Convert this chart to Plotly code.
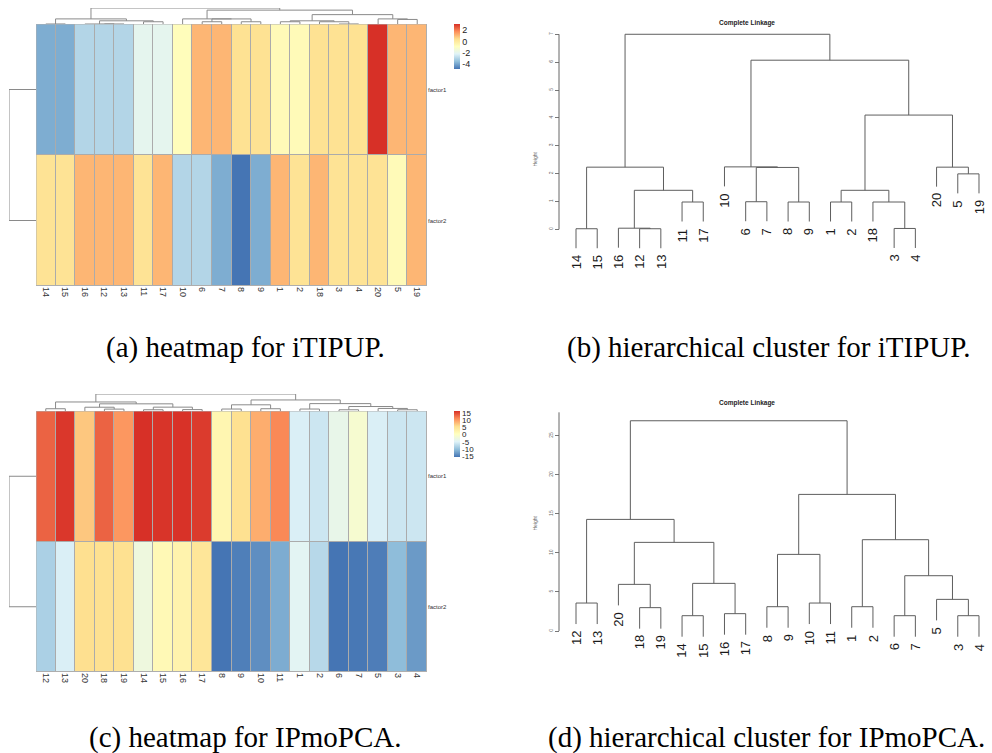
import plotly.graph_objects as go

W, H = 992, 753
def PX(p): return p / W
def PY(p): return 1 - p / H

# ---------------- data ----------------
# (a)/(b) iTIPUP
labels_itipup = [14, 15, 16, 12, 13, 11, 17, 10, 6, 7, 8, 9, 1, 2, 18, 3, 4, 20, 5, 19]
factor1_itipup = [-3.9, -3.9, -3.0, -3.0, -3.0, -2.0, -2.0, -0.8, 1.1, 1.1,
                  0.35, 0.35, -0.7, -0.7, 0.35, 0.35, 0.35, 3.1, 1.1, 1.1]
factor2_itipup = [0.3, 0.3, 1.1, 1.1, 1.1, 0.3, 1.1, -3.0, -3.0, -3.9,
                  -4.9, -3.9, 1.1, 0.3, 1.1, 0.3, 0.3, 0.3, -0.7, 1.1]
merge_itipup = [(-14, -15), (-12, -13), (-16, 2), (-3, -4), (-11, -17), (-6, -7), (-8, -9),
                (-1, -2), (-18, 4), (3, 5), (8, 9), (-5, -19), (1, 10), (6, 7), (-10, 14),
                (-20, 12), (11, 16), (15, 17), (13, 18)]
height_itipup = [0.02, 0.02, 0.04, 0.03, 0.98, 0.99, 0.98, 0.98, 0.98, 1.40, 1.40, 1.99,
                 2.23, 2.22, 2.24, 2.23, 4.10, 6.07, 7.00]
cbar_ticks_itipup = [2, 0, -2, -4]
height_ticks_itipup = [0, 1, 2, 3, 4, 5, 6, 7]

# (c)/(d) IPmoPCA
labels_ipmopca = [12, 13, 20, 18, 19, 14, 15, 16, 17, 8, 9, 10, 11, 1, 2, 6, 7, 5, 3, 4]
factor1_ipmopca = [13.3, 15.8, 7.3, 13.3, 10.3, 16.2, 16.0, 16.1, 15.6, 2.0,
                   5.6, 8.9, 11.2, -5.2, -6.1, -3.4, -1.1, -5.2, -6.1, -6.1]
factor2_ipmopca = [-8.3, -5.2, 5.7, 5.6, 5.6, -2.4, 1.5, 2.5, 4.7, -15.3,
                   -14.6, -13.5, -11.4, -4.3, -7.5, -15.3, -15.1, -14.7, -10.2, -12.7]
merge_ipmopca = [(-14, -15), (-6, -7), (-3, -4), (-16, -17), (-18, -19), (-8, -9), (-1, -2),
                 (-12, -13), (-10, -11), (-5, 3), (-20, 5), (1, 4), (2, 10), (6, 9), (11, 12),
                 (7, 13), (8, 15), (14, 16), (17, 18)]
height_ipmopca = [1.96, 1.96, 1.96, 2.22, 2.99, 3.11, 3.11, 3.58, 3.58, 4.05, 5.97, 6.10,
                  7.08, 9.81, 11.35, 11.69, 14.29, 17.49, 26.92]
cbar_ticks_ipmopca = [15, 10, 5, 0, -5, -10, -15]
height_ticks_ipmopca = [0, 5, 10, 15, 20, 25]

row_names = ["factor1", "factor2"]
captions = ["(a) heatmap for iTIPUP.", "(b) hierarchical cluster for iTIPUP.",
            "(c) heatmap for IPmoPCA.", "(d) hierarchical cluster for IPmoPCA."]

RDYLBU = ["#4575B4", "#91BFDB", "#E0F3F8", "#FFFFBF", "#FEE090", "#FC8D59", "#D73027"]
CSCALE = [[i / 6, c] for i, c in enumerate(RDYLBU)]
SANS = "Liberation Sans, Arial, sans-serif"


def dendro_segments(merge, height, order, hang=None, offset=0):
    pos = {lab: i + offset for i, lab in enumerate(order)}
    nodes, xs, ys, leaf_end = [], [], [], {}
    for (a, b), h in zip(merge, height):
        pts = []
        for c in (a, b):
            if c < 0:
                x = pos[-c]
                y0 = h - hang if hang is not None else 0.0
                leaf_end[-c] = (x, y0)
            else:
                x, y0 = nodes[c - 1]
            pts.append((x, y0))
        (xa, ya), (xb, yb) = pts
        xs += [xa, xa, xb, xb, None]
        ys += [ya, h, h, yb, None]
        nodes.append(((xa + xb) / 2, h))
    return xs, ys, leaf_end


fig = go.Figure()
layout = dict(width=W, height=H, autosize=False, margin=dict(l=0, r=0, t=0, b=0),
              paper_bgcolor="white", plot_bgcolor="rgba(0,0,0,0)", showlegend=False)
shapes, annotations = [], []


def sfx(n):
    return "" if n == 1 else str(n)


def heatmap_panel(k, labels, f1, f2, merge, height, top, bot, dtop, cb_ticks, cb_font, cb_len):
    n = len(labels)
    hx, cx, rx = k, k + 1, k + 2
    left, right = 36, 427
    zmin = min(min(f1), min(f2))
    zmax = max(max(f1), max(f2))
    fig.add_trace(go.Heatmap(
        z=[f1, f2], x=list(range(n)), y=[0, 1], xaxis="x" + sfx(hx), yaxis="y" + sfx(hx),
        colorscale=CSCALE, zmin=zmin, zmax=zmax, xgap=1, ygap=1, hoverinfo="skip",
        colorbar=dict(x=PX(454), xanchor="left", y=PY(top), yanchor="top",
                      len=cb_len, lenmode="pixels", thickness=6, thicknessmode="pixels",
                      outlinewidth=0, tickmode="array", tickvals=cb_ticks,
                      ticktext=[str(t) for t in cb_ticks], ticks="",
                      tickfont=dict(size=cb_font, family=SANS, color="#222"),
                      xpad=0, ypad=0)))
    layout["xaxis" + sfx(hx)] = dict(
        domain=[PX(left), PX(right)], range=[-0.5, n - 0.5], anchor="y" + sfx(hx),
        tickmode="array", tickvals=list(range(n)), ticktext=[str(l) for l in labels],
        tickangle=90, ticks="", showgrid=False, zeroline=False, showline=False,
        tickfont=dict(size=9, family=SANS, color="#333"))
    layout["yaxis" + sfx(hx)] = dict(
        domain=[PY(bot), PY(top)], range=[1.5, -0.5], anchor="x" + sfx(hx), side="right",
        tickmode="array", tickvals=[0, 1], ticktext=row_names, ticks="",
        showgrid=False, zeroline=False, showline=False,
        tickfont=dict(size=6, family=SANS, color="#333"))
    shapes.append(dict(type="rect", xref="x" + sfx(hx), yref="y" + sfx(hx),
                       x0=-0.5, x1=n - 0.5, y0=-0.5, y1=1.5,
                       fillcolor="#ababab", line=dict(width=0), layer="below"))
    shapes.append(dict(type="rect", xref="x" + sfx(hx), yref="y" + sfx(hx),
                       x0=-0.5, x1=n - 0.5, y0=-0.5, y1=1.5,
                       line=dict(width=1, color="#b0b0b0"), layer="above"))
    # column dendrogram
    xs, ys, _ = dendro_segments(merge, height, labels, hang=None, offset=0)
    fig.add_trace(go.Scatter(x=xs, y=ys, mode="lines", xaxis="x" + sfx(cx), yaxis="y" + sfx(cx),
                             line=dict(color="#8a8a8a", width=1), hoverinfo="skip",
                             cliponaxis=False))
    hmax = max(height)
    layout["xaxis" + sfx(cx)] = dict(domain=[PX(left), PX(right)], range=[-0.5, n - 0.5],
                                     anchor="y" + sfx(cx), visible=False)
    layout["yaxis" + sfx(cx)] = dict(domain=[PY(top), PY(dtop)], range=[0, hmax],
                                     anchor="x" + sfx(cx), visible=False)
    # row dendrogram (euclidean distance between the two rows)
    rh = sum((a - b) ** 2 for a, b in zip(f1, f2)) ** 0.5
    rxs, rys, _ = dendro_segments([(-1, -2)], [rh], [1, 2], hang=None, offset=0)
    fig.add_trace(go.Scatter(x=rys, y=rxs, mode="lines", xaxis="x" + sfx(rx), yaxis="y" + sfx(rx),
                             line=dict(color="#8a8a8a", width=1), hoverinfo="skip",
                             cliponaxis=False))
    layout["xaxis" + sfx(rx)] = dict(domain=[PX(9), PX(left)], range=[rh, 0],
                                     anchor="y" + sfx(rx), visible=False)
    layout["yaxis" + sfx(rx)] = dict(domain=[PY(bot), PY(top)], range=[1.5, -0.5],
                                     anchor="x" + sfx(rx), visible=False)


def dendro_panel(k, labels, merge, height, ticks, y0px, ppu, ytop_px, ybot_px, axis_top,
                 title_y, hlab_y):
    leaf_order = labels
    hmax = max(height)
    hang = 0.1 * hmax
    xs, ys, leaf_end = dendro_segments(merge, height, leaf_order, hang=hang, offset=1)
    fig.add_trace(go.Scatter(x=xs, y=ys, mode="lines", xaxis="x" + sfx(k), yaxis="y" + sfx(k),
                             line=dict(color="#5e5e5e", width=1), hoverinfo="skip",
                             cliponaxis=False))
    first_px, step = 576, 21.21
    dl, dr = 560, 990
    layout["xaxis" + sfx(k)] = dict(domain=[PX(dl), PX(dr)],
                                    range=[1 - (first_px - dl) / step, 1 + (dr - first_px) / step],
                                    anchor="y" + sfx(k), visible=False)
    layout["yaxis" + sfx(k)] = dict(
        domain=[PY(ybot_px), PY(ytop_px)],
        range=[(y0px - ybot_px) / ppu, (y0px - ytop_px) / ppu],
        anchor="free", position=PX(559), side="left",
        tickmode="array", tickvals=ticks, ticktext=[str(t) for t in ticks],
        ticks="outside", ticklen=4, tickwidth=1, tickcolor="#777", tickangle=-90,
        showgrid=False, zeroline=False, showline=False,
        tickfont=dict(size=5, family=SANS, color="#666"))
    shapes.append(dict(type="line", xref="paper", yref="y" + sfx(k),
                       x0=PX(559), x1=PX(559), y0=0, y1=axis_top,
                       line=dict(color="#666", width=1)))
    for lab in leaf_order:
        x, y = leaf_end[lab]
        annotations.append(dict(x=x, y=y, xref="x" + sfx(k), yref="y" + sfx(k), text=str(lab),
                                showarrow=False, textangle=-90, xanchor="center",
                                yanchor="top", yshift=-5,
                                font=dict(size=13, family=SANS, color="#1a1a1a")))
    annotations.append(dict(x=PX(777), y=PY(title_y), xref="paper", yref="paper",
                            text="<b>Complete Linkage</b>", showarrow=False,
                            font=dict(size=6.5, family=SANS, color="#222")))
    annotations.append(dict(x=PX(534), y=PY(hlab_y), xref="paper", yref="paper",
                            text="Height", showarrow=False, textangle=-90,
                            font=dict(size=5, family=SANS, color="#666")))


heatmap_panel(1, labels_itipup, factor1_itipup, factor2_itipup, merge_itipup, height_itipup,
              24, 286, 8, cbar_ticks_itipup, 9, 45)
dendro_panel(4, labels_itipup, merge_itipup, height_itipup, height_ticks_itipup,
             229.3, 27.86, 20, 300, max(height_ticks_itipup), 17, 150)
heatmap_panel(5, labels_ipmopca, factor1_ipmopca, factor2_ipmopca, merge_ipmopca, height_ipmopca,
              411, 672, 394, cbar_ticks_ipmopca, 8, 46)
dendro_panel(8, labels_ipmopca, merge_ipmopca, height_ipmopca, height_ticks_ipmopca,
             631, 7.81, 395, 700, 28, 403, 533)

cap_pos = [(245, 347), (768, 347), (245, 737), (766, 737)]
for text, (cx, cy) in zip(captions, cap_pos):
    annotations.append(dict(x=PX(cx), y=PY(cy), xref="paper", yref="paper", text=text,
                            showarrow=False, xanchor="center", yanchor="middle",
                            font=dict(size=29, family="Liberation Serif, serif", color="black")))

layout["shapes"] = shapes
layout["annotations"] = annotations
fig.update_layout(**layout)
fig.write_html("out.html", config={"displayModeBar": False},
               post_script="document.body.style.margin='0px';document.body.style.overflow='hidden';")
